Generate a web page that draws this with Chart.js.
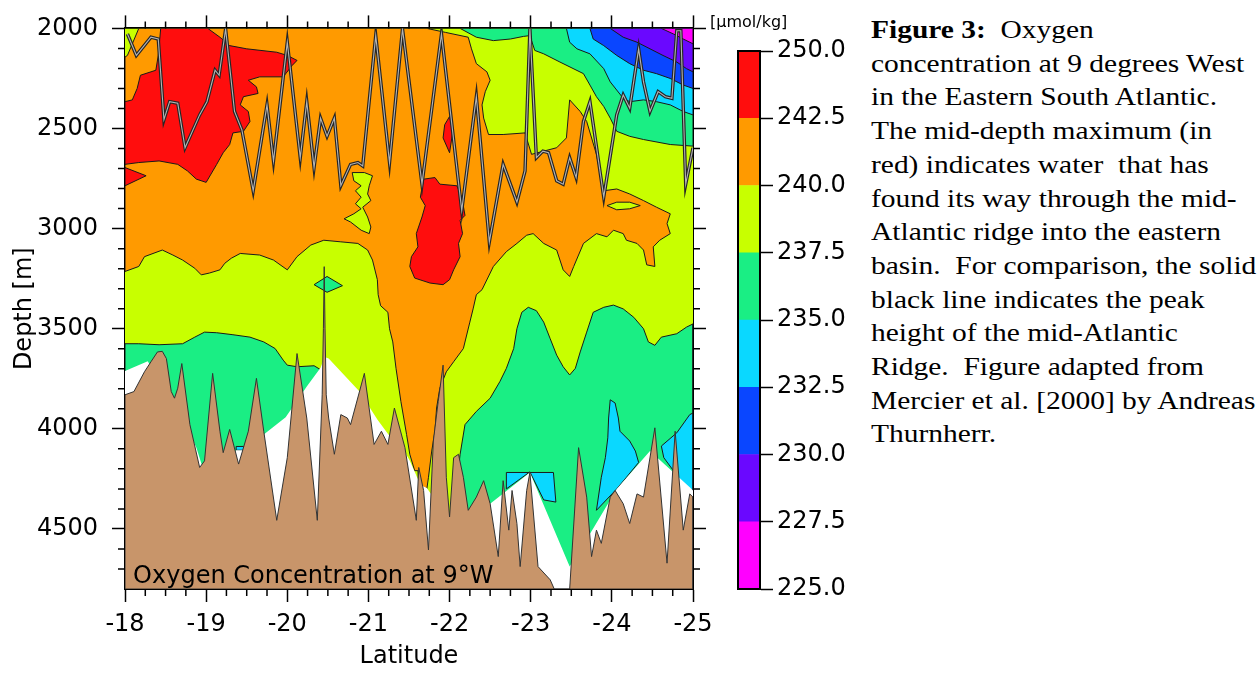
<!DOCTYPE html>
<html>
<head>
<meta charset="utf-8">
<script src="https://cdn.jsdelivr.net/npm/chart.js@4.4.0/dist/chart.umd.min.js"></script>
<style>
  body { margin: 0; background: #fff; width: 1258px; height: 675px; position: relative; overflow: hidden; }
  #main { position: absolute; left: 0; top: 0; }
  #bar { position: absolute; left: 700px; top: 0; }
  #unit { position: absolute; left: 710px; top: 12px; font: 16px 'DejaVu Sans'; color: #000; }
  #caption { position: absolute; left: 871px; top: 13px; font: 25.5px 'Liberation Serif'; line-height: 33.7px; white-space: pre; transform: scaleX(1.155); transform-origin: 0 0; color: #000; }
</style>
</head>
<body>
<canvas id="main" width="730" height="675"></canvas>
<canvas id="bar" width="160" height="675"></canvas>
<div id="unit">[µmol/kg]</div>
<div id="caption"><b>Figure 3:</b>  Oxygen
concentration at 9 degrees West
in the Eastern South Atlantic.
The mid-depth maximum (in
red) indicates water  that has
found its way through the mid-
Atlantic ridge into the eastern
basin.  For comparison, the solid
black line indicates the peak
height of the mid-Atlantic
Ridge.  Figure adapted from
Mercier et al. [2000] by Andreas
Thurnherr.</div>
<script>
// axis ticks
const latTicks = [-25, -24, -23, -22, -21, -20, -19, -18];
const depthTicks = [2000, 2500, 3000, 3500, 4000, 4500];

// contour levels (µmol/kg) and their colours, bottom band first
const colourbarLabels = ['225.0', '227.5', '230.0', '232.5', '235.0', '237.5', '240.0', '242.5', '250.0'];
const bandColours = ['#ff00ff', '#6a08ff', '#0a46ff', '#0ad8ff', '#1aee84', '#c8ff00', '#ff9a00', '#ff0d0d'];
const brown = '#c8956a';
const panelLabel = 'Oxygen Concentration at 9°W';

// [latitude, depth] outlines
const wholeSection = [[-18, 2000], [-25, 2000], [-25, 4800], [-18, 4800]];

const greenLeft = [[-18, 3575], [-18.17, 3575], [-18.42, 3580], [-18.71, 3575], [-18.86, 3542], [-18.98, 3517], [-19.13, 3520],
  [-19.33, 3530], [-19.54, 3542], [-19.71, 3566], [-19.85, 3599], [-19.95, 3657], [-20.0, 3682], [-20.12, 3690], [-20.33, 3685],
  [-20.40, 3702], [-20.42, 3760], [-20.42, 4800], [-18, 4800]];

const greenRight = [[-22.13, 4127], [-22.19, 3979], [-22.33, 3913], [-22.50, 3847], [-22.62, 3764], [-22.70, 3698], [-22.79, 3599],
  [-22.83, 3500], [-22.89, 3418], [-22.97, 3393], [-23.07, 3410], [-23.16, 3467], [-23.24, 3550], [-23.32, 3632], [-23.40, 3690],
  [-23.48, 3731], [-23.55, 3698], [-23.61, 3616], [-23.69, 3517], [-23.77, 3418], [-23.90, 3393], [-24.02, 3382], [-24.14, 3401],
  [-24.27, 3443], [-24.39, 3500], [-24.45, 3566], [-24.53, 3583], [-24.61, 3542], [-24.80, 3525], [-24.92, 3492], [-25, 3476],
  [-25, 4800], [-22.11, 4800], [-22.11, 4200]];

const greenTop = [[-22.13, 2000], [-22.33, 2044], [-22.54, 2061], [-22.75, 2053], [-22.91, 2040], [-22.99, 2036], [-23.05, 2110],
  [-23.16, 2127], [-23.36, 2168], [-23.65, 2226], [-23.73, 2283], [-23.81, 2341], [-23.90, 2390], [-23.98, 2448], [-24.06, 2514],
  [-24.22, 2539], [-24.39, 2555], [-24.72, 2580], [-25, 2588], [-25, 2000]];

const greenSpot = [[-20.33, 3280], [-20.49, 3239], [-20.68, 3285], [-20.49, 3318]];

const orangeArea = [[-18, 2143], [-18.03, 2135], [-18.17, 2000], [-21.72, 2000], [-21.95, 2020], [-22.23, 2044], [-22.27, 2102],
  [-22.33, 2176], [-22.46, 2217], [-22.50, 2259], [-22.44, 2316], [-22.40, 2382], [-22.42, 2448], [-22.48, 2530], [-22.66, 2530],
  [-22.93, 2522], [-23.01, 2629], [-23.16, 2613], [-23.32, 2596], [-23.44, 2547], [-23.48, 2357], [-23.61, 2415], [-23.69, 2465],
  [-23.81, 2629], [-23.90, 2811], [-24.06, 2802], [-24.22, 2827], [-24.39, 2860], [-24.55, 2893], [-24.72, 2926], [-24.68, 2975],
  [-24.72, 3025], [-24.59, 3058], [-24.51, 3091], [-24.53, 3189], [-24.43, 3181], [-24.39, 3107], [-24.31, 3074], [-24.18, 3058],
  [-24.14, 3025], [-24.02, 3008], [-23.94, 3041], [-23.81, 3025], [-23.65, 3074], [-23.53, 3189], [-23.48, 3239], [-23.40, 3206],
  [-23.32, 3107], [-23.16, 3074], [-23.03, 3025], [-22.95, 3033], [-22.83, 3074], [-22.70, 3115], [-22.54, 3189], [-22.40, 3305],
  [-22.33, 3330], [-22.29, 3401], [-22.25, 3467], [-22.17, 3599], [-22.05, 3665], [-21.96, 3715], [-21.88, 3797], [-21.84, 3896],
  [-21.82, 4012], [-21.78, 4111], [-21.74, 4242], [-21.72, 4300], [-21.62, 4290], [-21.61, 4209], [-21.57, 4209], [-21.51, 4127],
  [-21.47, 4028], [-21.40, 3863], [-21.34, 3698], [-21.30, 3566], [-21.26, 3500], [-21.24, 3418], [-21.15, 3385], [-21.12, 3330],
  [-21.11, 3255], [-21.05, 3157], [-20.99, 3107], [-20.87, 3074], [-20.66, 3066], [-20.45, 3058], [-20.29, 3082], [-20.12, 3140],
  [-20.0, 3206], [-19.83, 3157], [-19.66, 3132], [-19.42, 3124], [-19.31, 3148], [-19.23, 3173], [-19.17, 3206], [-19.04, 3222],
  [-18.94, 3231], [-18.86, 3198], [-18.71, 3157], [-18.59, 3132], [-18.46, 3107], [-18.24, 3140], [-18.17, 3189], [-18, 3214]];

const lensMid = [[-20.80, 2720], [-20.95, 2720], [-21.05, 2736], [-21.01, 2786], [-20.99, 2827], [-21.03, 2860], [-20.93, 2893],
  [-20.99, 2942], [-21.03, 2992], [-21.01, 3025], [-20.91, 3008], [-20.78, 2967], [-20.70, 2951], [-20.82, 2926], [-20.91, 2901],
  [-20.84, 2876], [-20.91, 2843], [-20.84, 2811], [-20.91, 2786], [-20.82, 2761]];
const lensEast = [[-23.94, 2885], [-24.06, 2868], [-24.22, 2868], [-24.35, 2885], [-24.22, 2901], [-24.06, 2906]];

const redWest = [[-18.44, 2000], [-19.02, 2000], [-19.17, 2044], [-19.29, 2086], [-19.50, 2102], [-19.87, 2119], [-20.0, 2135],
  [-20.12, 2160], [-20.06, 2185], [-19.95, 2242], [-19.66, 2242], [-19.52, 2259], [-19.62, 2292], [-19.64, 2325], [-19.46, 2341],
  [-19.42, 2382], [-19.52, 2415], [-19.54, 2465], [-19.46, 2514], [-19.33, 2522], [-19.29, 2580], [-19.21, 2621], [-19.13, 2679],
  [-19.0, 2769], [-18.88, 2753], [-18.77, 2712], [-18.65, 2679], [-18.42, 2662], [-18.17, 2670], [-18, 2679], [-18, 2366],
  [-18.09, 2357], [-18.15, 2300], [-18.19, 2234], [-18.38, 2209], [-18.41, 2135]];
const redWedge = [[-18, 2695], [-18.26, 2736], [-18, 2786]];
const redSpot = [[-22.0, 2440], [-22.04, 2514], [-22.0, 2621], [-21.92, 2547], [-21.94, 2481]];
const redCore = [[-21.68, 2753], [-21.82, 2745], [-21.88, 2778], [-22.09, 2786], [-22.15, 2843], [-22.19, 2934], [-22.13, 2959],
  [-22.16, 3025], [-22.11, 3074], [-22.13, 3140], [-22.05, 3206], [-22.0, 3255], [-21.92, 3280], [-21.76, 3272], [-21.57, 3247],
  [-21.51, 3189], [-21.53, 3140], [-21.61, 3091], [-21.59, 3025], [-21.66, 2942], [-21.70, 2885], [-21.64, 2843]];

const cyanTop = [[-23.44, 2000], [-23.48, 2069], [-23.57, 2102], [-23.73, 2127], [-23.90, 2201], [-23.98, 2267], [-24.06, 2308],
  [-24.14, 2349], [-24.22, 2366], [-24.39, 2357], [-24.55, 2366], [-24.72, 2382], [-24.88, 2415], [-25, 2432], [-25, 2000]];
const blueTop = [[-23.73, 2000], [-23.77, 2053], [-23.90, 2086], [-24.06, 2135], [-24.22, 2176], [-24.39, 2209], [-24.55, 2226],
  [-24.72, 2250], [-24.88, 2283], [-25, 2300], [-25, 2000]];
const purpleTop = [[-23.98, 2000], [-24.14, 2044], [-24.31, 2069], [-24.47, 2102], [-24.63, 2135], [-24.80, 2168], [-24.92, 2201],
  [-25, 2217], [-25, 2000]];
const magentaTop = [[-24.61, 2000], [-24.76, 2028], [-24.88, 2053], [-25, 2077], [-25, 2000]];

const cyanLow1 = [[-22.70, 4218], [-23.28, 4218], [-23.31, 4366], [-23.16, 4355], [-22.99, 4215], [-22.70, 4300]];
const cyanLow2 = [[-23.98, 3855], [-24.04, 3871], [-24.08, 3946], [-24.10, 4012], [-24.22, 4061], [-24.29, 4111], [-24.33, 4168],
  [-24.18, 4242], [-24.06, 4300], [-23.81, 4407], [-23.87, 4242], [-23.92, 4144], [-23.95, 4045], [-23.96, 3946]];
const cyanLow3 = [[-24.61, 4086], [-24.80, 4020], [-24.96, 3929], [-25, 3921], [-25, 4341], [-24.64, 4144]];
const cyanLow4 = [[-19.37, 4088], [-19.48, 4088], [-19.48, 4107], [-19.37, 4107]];

// lower limit of the measured section (white below it)
const dataBottom = [[-18, 3711], [-18.28, 3662], [-18.61, 3880], [-18.75, 3979], [-18.88, 4094], [-18.95, 4185], [-19.01, 4218],
  [-19.29, 4152], [-19.37, 4107], [-19.49, 4107], [-19.58, 4045], [-19.71, 4028], [-19.98, 3942], [-20.24, 3789], [-20.41, 3695],
  [-20.46, 3641], [-20.51, 3649], [-20.89, 3814], [-21.11, 3954], [-21.26, 4036], [-21.40, 4080], [-21.51, 4160], [-21.57, 4215],
  [-21.64, 4280], [-21.72, 4295], [-21.78, 4330], [-21.9, 4700], [-22.3, 4700], [-22.50, 4374], [-22.99, 4218], [-23.48, 4688],
  [-23.77, 4498], [-24.06, 4300], [-24.47, 4111], [-24.96, 4292], [-25, 4308], [-25, 4800], [-18, 4800]];

// sea floor along the section
const seaFloor = [[-18, 3830], [-18.11, 3814], [-18.24, 3715], [-18.32, 3665], [-18.40, 3616], [-18.46, 3613], [-18.51, 3649],
  [-18.57, 3814], [-18.61, 3847], [-18.65, 3797], [-18.70, 3674], [-18.80, 3979], [-18.92, 4193], [-18.98, 4160], [-19.08, 3723],
  [-19.17, 4012], [-19.21, 4119], [-19.29, 4003], [-19.40, 4176], [-19.52, 4012], [-19.62, 3748], [-19.71, 4012], [-19.87, 4457],
  [-20.0, 4144], [-20.12, 3624], [-20.24, 3946], [-20.37, 4457], [-20.43, 3830], [-20.445, 3500], [-20.455, 3190], [-20.465, 3500],
  [-20.48, 3830], [-20.51, 3946], [-20.58, 4127], [-20.66, 3929], [-20.74, 3946], [-20.78, 3979], [-20.95, 3723], [-21.07, 4078],
  [-21.16, 4012], [-21.24, 4078], [-21.32, 3896], [-21.45, 4094], [-21.59, 4457], [-21.62, 4193], [-21.68, 4308], [-21.74, 4605],
  [-21.80, 4061], [-21.86, 3863], [-21.92, 3682], [-21.96, 4242], [-22.0, 4440], [-22.05, 4144], [-22.11, 4127], [-22.17, 4242],
  [-22.23, 4407], [-22.33, 4341], [-22.42, 4259], [-22.50, 4374], [-22.60, 4638], [-22.66, 4259], [-22.73, 4506], [-22.77, 4308],
  [-22.83, 4473], [-22.87, 4688], [-22.95, 4308], [-22.99, 4218], [-23.09, 4688], [-23.24, 4754], [-23.29, 4800], [-23.48, 4800],
  [-23.59, 4094], [-23.69, 4341], [-23.75, 4638], [-23.81, 4506], [-23.87, 4572], [-23.98, 4341], [-24.04, 4308], [-24.14, 4374],
  [-24.22, 4473], [-24.31, 4325], [-24.39, 4341], [-24.53, 3995], [-24.68, 4671], [-24.78, 4012], [-24.88, 4506], [-24.96, 4325],
  [-25, 4341], [-25, 4800], [-18, 4800]];

// peak height of the mid-Atlantic ridge
const ridgeCrest = [[-18.03, 2028], [-18.14, 2135], [-18.32, 2044], [-18.41, 2053], [-18.48, 2456], [-18.55, 2366], [-18.65, 2374],
  [-18.74, 2596], [-18.92, 2432], [-19.01, 2366], [-19.11, 2209], [-19.16, 2234], [-19.24, 2003], [-19.35, 2415], [-19.44, 2506],
  [-19.58, 2811], [-19.75, 2382], [-19.83, 2662], [-20.0, 2069], [-20.16, 2646], [-20.24, 2366], [-20.33, 2695], [-20.41, 2448],
  [-20.49, 2539], [-20.58, 2448], [-20.66, 2786], [-20.78, 2679], [-20.87, 2670], [-20.93, 2687], [-21.09, 2036], [-21.26, 2670],
  [-21.42, 2003], [-21.66, 2778], [-21.90, 2028], [-22.15, 2909], [-22.33, 2341], [-22.49, 3066], [-22.66, 2679], [-22.83, 2868],
  [-22.93, 2712], [-22.99, 2003], [-23.07, 2646], [-23.15, 2613], [-23.22, 2621], [-23.32, 2761], [-23.40, 2778], [-23.48, 2646],
  [-23.56, 2745], [-23.65, 2465], [-23.73, 2366], [-23.90, 2843], [-24.06, 2432], [-24.14, 2333], [-24.22, 2399], [-24.33, 2102],
  [-24.39, 2267], [-24.47, 2415], [-24.57, 2316], [-24.66, 2341], [-24.74, 2349], [-24.80, 2012], [-24.85, 2012], [-24.91, 2778],
  [-25, 2596]];

const [cMag, cPur, cBlue, cCyan, cGreen, cYel, cOra, cRed] = bandColours;
const contourLine = '#1a1a1a';

// bottom layer first
const layers = [
  {pts: wholeSection, fill: cYel, line: null},
  {pts: greenLeft, fill: cGreen, line: contourLine},
  {pts: greenRight, fill: cGreen, line: contourLine},
  {pts: greenTop, fill: cGreen, line: contourLine},
  {pts: greenSpot, fill: cGreen, line: contourLine},
  {pts: orangeArea, fill: cOra, line: contourLine},
  {pts: lensMid, fill: cYel, line: contourLine},
  {pts: lensEast, fill: cYel, line: contourLine},
  {pts: redWest, fill: cRed, line: contourLine},
  {pts: redWedge, fill: cRed, line: contourLine},
  {pts: redSpot, fill: cRed, line: contourLine},
  {pts: redCore, fill: cRed, line: contourLine},
  {pts: cyanTop, fill: cCyan, line: contourLine},
  {pts: blueTop, fill: cBlue, line: contourLine},
  {pts: purpleTop, fill: cPur, line: contourLine},
  {pts: magentaTop, fill: cMag, line: contourLine},
  {pts: cyanLow1, fill: cCyan, line: contourLine},
  {pts: cyanLow2, fill: cCyan, line: contourLine},
  {pts: cyanLow3, fill: cCyan, line: contourLine},
  {pts: cyanLow4, fill: cCyan, line: contourLine},
  {pts: dataBottom, fill: '#ffffff', line: null},
  {pts: seaFloor, fill: brown, line: '#333333'}
];

const toXY = (pts, close) => {
  const out = pts.map(([x, y]) => ({x, y}));
  if (close) out.push({x: pts[0][0], y: pts[0][1]});
  return out;
};

const datasets = layers.map((l, i) => ({
  data: toXY(l.pts, true),
  backgroundColor: l.fill,
  borderColor: l.line || 'rgba(0,0,0,0)',
  borderWidth: l.line ? 1 : 0.01,
  fill: 'shape',
  order: 100 - i
}));
datasets.push({data: toXY(ridgeCrest, false), borderColor: '#262626', borderWidth: 3.4, fill: false, order: 3});
datasets.push({data: toXY(ridgeCrest, false), borderColor: '#b4b4b4', borderWidth: 1.1, fill: false, order: 2});

Chart.defaults.font.family = 'DejaVu Sans';
Chart.defaults.font.size = 24;
Chart.defaults.color = '#000';

const majorGrid = {drawOnChartArea: false, drawTicks: true, tickLength: 13, tickWidth: 1.5, tickColor: '#000', color: '#000'};
const frame = {display: true, color: '#000', width: 2};
const setLatTicks = s => { s.ticks = latTicks.map(v => ({value: v})); };
const setDepthTicks = s => { s.ticks = depthTicks.map(v => ({value: v})); };

const frameTicks = {
  id: 'frameTicks',
  afterDraw(chart) {
    const {ctx, chartArea: a, scales: {x, y}} = chart;
    ctx.save();
    ctx.strokeStyle = '#000';
    ctx.lineWidth = 1.5;
    ctx.beginPath();
    for (let v = -25; v < -18; v += 0.25) {
      if (Math.abs(v - Math.round(v)) < 1e-6) continue;
      const px = x.getPixelForValue(v);
      ctx.moveTo(px, a.bottom); ctx.lineTo(px, a.bottom + 7);
      ctx.moveTo(px, a.top); ctx.lineTo(px, a.top - 7);
    }
    for (let d = 2100; d < 4800; d += 100) {
      if (d % 500 === 0) continue;
      const py = y.getPixelForValue(d);
      ctx.moveTo(a.left, py); ctx.lineTo(a.left - 7, py);
      ctx.moveTo(a.right, py); ctx.lineTo(a.right + 7, py);
    }
    ctx.stroke();
    ctx.font = '24px "DejaVu Sans"';
    ctx.fillStyle = '#000';
    ctx.textBaseline = 'alphabetic';
    ctx.fillText(panelLabel, x.getPixelForValue(-18.1), y.getPixelForValue(4768));
    ctx.restore();
  }
};

new Chart(document.getElementById('main'), {
  type: 'line',
  data: {datasets},
  options: {
    responsive: false,
    animation: false,
    events: [],
    layout: {padding: 0, autoPadding: false},
    plugins: {legend: {display: false}, tooltip: {enabled: false}},
    elements: {point: {radius: 0}, line: {tension: 0}},
    scales: {
      x: {type: 'linear', position: 'bottom', min: -25, max: -18, reverse: true,
        ticks: {autoSkip: false, padding: 8, maxRotation: 0, callback: v => String(v)}, afterBuildTicks: setLatTicks,
        grid: majorGrid, border: frame,
        title: {display: true, text: 'Latitude', padding: {top: 0, bottom: 4}},
        afterFit: s => { s.height = 86; }},
      xTop: {type: 'linear', position: 'top', min: -25, max: -18, reverse: true,
        ticks: {display: false}, afterBuildTicks: setLatTicks, grid: majorGrid, border: frame,
        afterFit: s => { s.height = 23; }},
      y: {type: 'linear', position: 'left', min: 2000, max: 4800, reverse: true,
        ticks: {autoSkip: false, padding: 14, callback: v => String(v)}, afterBuildTicks: setDepthTicks,
        grid: majorGrid, border: frame,
        title: {display: true, text: 'Depth [m]', padding: {top: 10, bottom: 0}},
        afterFit: s => { s.width = 125; }},
      yRight: {type: 'linear', position: 'right', min: 2000, max: 4800, reverse: true,
        ticks: {display: false}, afterBuildTicks: setDepthTicks,
        grid: majorGrid, border: frame,
        afterFit: s => { s.width = 37; }}
    }
  },
  plugins: [frameTicks]
});

// colour bar: equal-height bands, one per contour interval
const barFrame = {
  id: 'barFrame',
  afterDraw(chart) {
    const {ctx, chartArea: a} = chart;
    ctx.save();
    ctx.strokeStyle = '#000';
    ctx.lineWidth = 2;
    ctx.strokeRect(a.left, a.top, a.right - a.left, a.bottom - a.top);
    ctx.restore();
  }
};

new Chart(document.getElementById('bar'), {
  type: 'bar',
  data: {
    labels: [''],
    datasets: bandColours.map((c, i) => ({data: [[i, i + 1]], backgroundColor: c, borderWidth: 0,
      grouped: false, barPercentage: 1, categoryPercentage: 1}))
  },
  options: {
    responsive: false,
    animation: false,
    events: [],
    layout: {padding: {left: 38, top: 51, bottom: 86, right: 0}, autoPadding: false},
    plugins: {legend: {display: false}, tooltip: {enabled: false}},
    scales: {
      x: {display: false},
      y: {position: 'right', min: 0, max: 8,
        ticks: {stepSize: 1, padding: 4, callback: v => colourbarLabels[v]},
        grid: {drawOnChartArea: false, drawTicks: true, tickLength: 13, tickWidth: 1.5, tickColor: '#000'},
        border: {display: true, color: '#000', width: 2},
        afterFit: s => { s.width = 100; }}
    }
  },
  plugins: [barFrame]
});
</script>
</body>
</html>
